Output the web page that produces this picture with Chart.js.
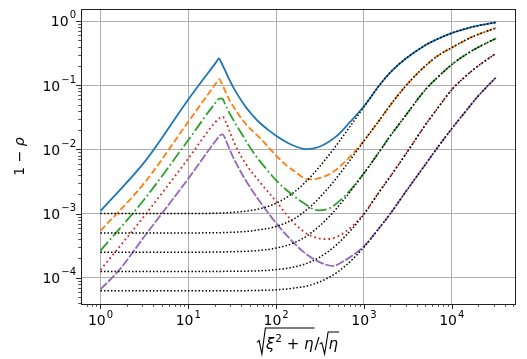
<!DOCTYPE html>
<html>
<head>
<meta charset="utf-8">
<script src="https://cdn.jsdelivr.net/npm/chart.js@4.4.1/dist/chart.umd.min.js"></script>
<style>
    html, body { margin: 0; padding: 0; background: #fff; }
    #wrap { width: 527px; height: 359px; }
</style>
</head>
<body>
<div id="wrap"><canvas id="chart" width="527" height="359"></canvas></div>
<script>
// values (log-log axes)
const xBlue = [1, 3.3, 10, 21, 22.4, 23.5, 26, 30, 35, 45, 55, 64, 80, 100, 150, 219, 300, 480, 700, 1000, 1500, 2000, 3000, 5000, 7000, 10000, 15000, 20000, 32000]
const yBlue = [1.1e-3, 6.8e-3, 0.06, 0.233, 0.262, 0.232, 0.175, 0.115, 0.078, 0.046, 0.033, 0.0265, 0.0205, 0.0163, 0.0118, 0.0101, 0.0108, 0.0158, 0.027, 0.047, 0.1, 0.159, 0.26, 0.42, 0.53, 0.65, 0.77, 0.845, 0.955]

const xOrange = [1, 3.16, 10, 21, 22.4, 24, 26, 30, 35, 45, 64, 76.5, 100, 130, 160, 235, 350, 480, 700, 1000, 1500, 2000, 3000, 5000, 7000, 10000, 15000, 20000, 32000]
const yOrange = [5.4e-4, 3e-3, 0.027, 0.11, 0.124, 0.108, 0.084, 0.056, 0.04, 0.025, 0.0155, 0.012, 8.0e-3, 5.7e-3, 4.6e-3, 3.4e-3, 3.75e-3, 4.8e-3, 7.8e-3, 0.0137, 0.0285, 0.049, 0.098, 0.2, 0.29, 0.385, 0.52, 0.62, 0.78]

const xGreen = [1, 3.16, 10, 21, 22.4, 24.5, 26, 28, 32, 40, 55, 75, 100, 150, 200, 300, 400, 600, 1000, 1500, 2000, 3000, 5000, 7000, 10000, 15000, 20000, 32000]
const yGreen = [2.64e-4, 1.67e-3, 0.014, 0.056, 0.0617, 0.0617, 0.052, 0.042, 0.03, 0.018, 9e-3, 5.2e-3, 3.3e-3, 2.0e-3, 1.5e-3, 1.12e-3, 1.2e-3, 1.85e-3, 4.25e-3, 9.25e-3, 0.0163, 0.034, 0.085, 0.135, 0.21, 0.31, 0.39, 0.537]

const xRed = [1, 3.16, 10, 20, 23, 24.6, 27, 30, 35, 45, 64, 100, 150, 200, 250, 300, 370, 500, 700, 1000, 1500, 2000, 3000, 5000, 7000, 10000, 15000, 20000, 32000]
const yRed = [1.32e-4, 9.2e-4, 7.2e-3, 0.026, 0.031, 0.0323, 0.026, 0.018, 0.011, 6e-3, 3.2e-3, 1.55e-3, 7.8e-4, 5.4e-4, 4.5e-4, 4.15e-4, 4e-4, 4.4e-4, 6e-4, 1e-3, 2.2e-3, 3.8e-3, 8.5e-3, 0.024, 0.045, 0.085, 0.145, 0.2, 0.314]

const xPurple = [1, 1.62, 3.16, 10, 20, 23, 24.6, 27, 30, 35, 45, 64, 100, 150, 200, 300, 442, 600, 800, 1000, 1500, 2000, 3000, 5000, 7000, 10000, 15000, 20000, 32000]
const yPurple = [6.6e-5, 1.3e-4, 4.4e-4, 3.5e-3, 0.013, 0.0165, 0.0172, 0.0135, 9.5e-3, 6.1e-3, 3.3e-3, 1.6e-3, 7.1e-4, 3.8e-4, 2.6e-4, 1.8e-4, 1.53e-4, 1.85e-4, 2.4e-4, 3.1e-4, 6e-4, 1e-3, 2.2e-3, 5.8e-3, 0.011, 0.021, 0.042, 0.068, 0.133]

// black dotted curves, low part (above x=1000 they sit on the coloured curves)
const xBlackLow = [1, 10, 30, 60, 100, 160, 250, 400, 600, 1000]
const yBlack1 = [1e-3, 1e-3, 1.04e-3, 1.16e-3, 1.45e-3, 2.15e-3, 3.8e-3, 8.2e-3, 0.0172, 0.046]
const yBlack2 = [5e-4, 5e-4, 5.1e-4, 5.5e-4, 6.3e-4, 8.3e-4, 1.31e-3, 2.58e-3, 5.2e-3, 0.0135]
const yBlack3 = [2.5e-4, 2.5e-4, 2.54e-4, 2.64e-4, 2.9e-4, 3.5e-4, 5e-4, 8.9e-4, 1.69e-3, 4.25e-3]
const yBlack4 = [1.25e-4, 1.25e-4, 1.26e-4, 1.28e-4, 1.34e-4, 1.47e-4, 1.78e-4, 2.61e-4, 4.3e-4, 9.75e-4]
const yBlack5 = [6.25e-5, 6.25e-5, 6.27e-5, 6.34e-5, 6.5e-5, 6.9e-5, 7.75e-5, 1.01e-4, 1.49e-4, 3.0e-4]

// axes
const xRange = [0.608, 52500]
const yRange = [3.9e-5, 1.54]
const xTickExps = [0, 1, 2, 3, 4]
const yTickExps = [-4, -3, -2, -1, 0]
const minorSteps = [2, 3, 4, 5, 6, 7, 8, 9]

function pts(xs, ys) {
    return xs.map((x, i) => ({ x: x, y: ys[i] }))
}

function blackPts(ys, xs2, ys2) {
    let tail = pts(xs2, ys2).filter(p => p.x > 1000)
    return pts(xBlackLow, ys).concat(tail)
}

function line(data, color, width, dash, order) {
    return {
        data: data,
        borderColor: color,
        borderWidth: width,
        borderDash: dash,
        pointRadius: 0,
        fill: false,
        cubicInterpolationMode: 'monotone',
        order: order
    }
}

const dotK = [1.5, 2]
const datasets = [
    line(blackPts(yBlack1, xBlue, yBlue), '#000', 1.5, dotK, 0),
    line(blackPts(yBlack2, xOrange, yOrange), '#000', 1.5, dotK, 0),
    line(blackPts(yBlack3, xGreen, yGreen), '#000', 1.5, dotK, 0),
    line(blackPts(yBlack4, xRed, yRed), '#000', 1.5, dotK, 0),
    line(blackPts(yBlack5, xPurple, yPurple), '#000', 1.5, dotK, 0),
    line(pts(xBlue, yBlue), '#1f77b4', 1.8, [], 1),
    line(pts(xOrange, yOrange), '#ff7f0e', 1.8, [6.7, 2.9], 1),
    line(pts(xGreen, yGreen), '#2ca02c', 1.8, [11.5, 2.9, 1.8, 2.9], 1),
    line(pts(xRed, yRed), '#d62728', 1.8, [1.8, 3], 1),
    line(pts(xPurple, yPurple), '#9467bd', 1.8, [9, 1.8], 1)
]

const FONT = '"DejaVu Sans", sans-serif'

function minorValues(range, fromExp, toExp) {
    let out = []
    for (let e = fromExp; e <= toExp; e++) {
        minorSteps.forEach(m => {
            let v = m * Math.pow(10, e)
            if (v > range[0] && v < range[1]) out.push(v)
        })
    }
    return out
}

function expText(e) {
    return (e < 0 ? '\u2212' : '') + Math.abs(e)
}

// spines, tick marks, tick labels and axis titles, matplotlib style
const decor = {
    id: 'decor',
    afterDraw(chart) {
        const ctx = chart.ctx
        const a = chart.chartArea
        const xs = chart.scales.x
        const ys = chart.scales.y
        ctx.save()
        ctx.strokeStyle = '#222'
        ctx.fillStyle = '#000'

        // tick marks
        const mark = (x1, y1, x2, y2, w) => {
            ctx.lineWidth = w
            ctx.beginPath(); ctx.moveTo(x1, y1); ctx.lineTo(x2, y2); ctx.stroke()
        }
        xTickExps.forEach(e => {
            let px = Math.round(xs.getPixelForValue(Math.pow(10, e))) + 0.5
            mark(px, a.bottom, px, a.bottom + 4.9, 1)
        })
        minorValues(xRange, -1, 4).forEach(v => {
            let px = Math.round(xs.getPixelForValue(v)) + 0.5
            mark(px, a.bottom, px, a.bottom + 2.8, 0.8)
        })
        yTickExps.forEach(e => {
            let py = Math.round(ys.getPixelForValue(Math.pow(10, e))) + 0.5
            mark(a.left - 4.9, py, a.left, py, 1)
        })
        minorValues(yRange, -5, 0).forEach(v => {
            let py = Math.round(ys.getPixelForValue(v)) + 0.5
            mark(a.left - 2.8, py, a.left, py, 0.8)
        })

        // frame
        ctx.lineWidth = 1
        ctx.strokeRect(Math.round(a.left) + 0.5, Math.round(a.top) + 0.5,
            Math.round(a.right - a.left), Math.round(a.bottom - a.top))

        // tick labels 10^n
        ctx.textAlign = 'left'
        ctx.textBaseline = 'alphabetic'
        xTickExps.forEach(e => {
            let px = xs.getPixelForValue(Math.pow(10, e))
            ctx.font = '14px ' + FONT
            let w10 = ctx.measureText('10').width
            ctx.font = '10px ' + FONT
            let wSup = ctx.measureText(expText(e)).width
            let x0 = px - (w10 + wSup + 1) / 2
            ctx.font = '14px ' + FONT
            ctx.fillText('10', x0, a.bottom + 21)
            ctx.font = '10px ' + FONT
            ctx.fillText(expText(e), x0 + w10 + 1, a.bottom + 14)
        })
        yTickExps.forEach(e => {
            let py = ys.getPixelForValue(Math.pow(10, e))
            ctx.font = '10px ' + FONT
            let wSup = ctx.measureText(expText(e)).width
            ctx.font = '14px ' + FONT
            let w10 = ctx.measureText('10').width
            let right = a.left - 5
            ctx.fillText('10', right - wSup - w10 - 1, py + 5.3)
            ctx.font = '10px ' + FONT
            ctx.fillText(expText(e), right - wSup, py - 2.6)
        })

        // y title: 1 - rho
        ctx.save()
        ctx.translate(20, (a.top + a.bottom) / 2)
        ctx.rotate(-Math.PI / 2)
        ctx.textBaseline = 'middle'
        ctx.font = '14px ' + FONT
        let w1 = ctx.measureText('1 \u2212 ').width
        ctx.font = 'italic 14px ' + FONT
        let w2 = ctx.measureText('\u03c1').width
        ctx.font = '14px ' + FONT
        ctx.fillText('1 \u2212 ', -(w1 + w2) / 2, 0)
        ctx.font = 'italic 14px ' + FONT
        ctx.fillText('\u03c1', -(w1 + w2) / 2 + w1, 0)
        ctx.restore()

        drawXTitle(ctx, (a.left + a.right) / 2, 349)
        ctx.restore()
    }
}

// sqrt(xi^2 + eta) / sqrt(eta)
function drawXTitle(ctx, cx, base) {
    const it = 'italic 15px ' + FONT
    const rg = '15px ' + FONT
    const sp = '10.5px ' + FONT
    const radW = 9
    const m = (f, t) => { ctx.font = f; return ctx.measureText(t).width }
    let wXi = m(it, '\u03be'), wTwo = m(sp, '2'), wPlus = m(rg, ' + '), wEta = m(it, '\u03b7'), wSl = m(rg, '/')
    let inner1 = wXi + wTwo + 1 + wPlus + wEta + 1
    let total = radW + inner1 + wSl + radW + wEta + 1
    let x = cx - total / 2

    const radical = (x0, top, bottom, end) => {
        let h = bottom - top
        ctx.lineWidth = 1.1
        ctx.beginPath()
        ctx.moveTo(x0, top + 0.55 * h)
        ctx.lineTo(x0 + 2.2, top + 0.48 * h)
        ctx.lineTo(x0 + 5, bottom)
        ctx.lineTo(x0 + 8.5, top)
        ctx.lineTo(end, top)
        ctx.stroke()
    }
    ctx.strokeStyle = '#000'
    ctx.textAlign = 'left'
    ctx.textBaseline = 'alphabetic'
    radical(x, base - 21, base + 5, x + radW + inner1)
    x += radW
    ctx.font = it; ctx.fillText('\u03be', x, base); x += wXi
    ctx.font = sp; ctx.fillText('2', x + 1, base - 7); x += wTwo + 1
    ctx.font = rg; ctx.fillText(' + ', x, base); x += wPlus
    ctx.font = it; ctx.fillText('\u03b7', x, base); x += wEta + 1
    ctx.font = rg; ctx.fillText('/', x, base); x += wSl
    radical(x, base - 17, base + 5, x + radW + wEta + 1)
    x += radW
    ctx.font = it; ctx.fillText('\u03b7', x, base)
}

function decadeTicks(exps) {
    return axis => { axis.ticks = exps.map(e => ({ value: Math.pow(10, e) })) }
}

new Chart(document.getElementById('chart'), {
    type: 'line',
    data: { datasets: datasets },
    options: {
        responsive: false,
        animation: false,
        devicePixelRatio: 1,
        layout: { padding: { top: 9, right: 12, left: 0, bottom: 0 } },
        plugins: { legend: { display: false }, tooltip: { enabled: false } },
        scales: {
            x: {
                type: 'logarithmic',
                min: xRange[0],
                max: xRange[1],
                afterBuildTicks: decadeTicks(xTickExps),
                afterFit: s => { s.height = 55 },
                ticks: { display: false },
                border: { display: false },
                grid: { color: '#b0b0b0', lineWidth: 1, drawTicks: false }
            },
            y: {
                type: 'logarithmic',
                min: yRange[0],
                max: yRange[1],
                afterBuildTicks: decadeTicks(yTickExps),
                afterFit: s => { s.width = 81 },
                ticks: { display: false },
                border: { display: false },
                grid: { color: '#b0b0b0', lineWidth: 1, drawTicks: false }
            }
        }
    },
    plugins: [decor]
})
</script>
</body>
</html>
